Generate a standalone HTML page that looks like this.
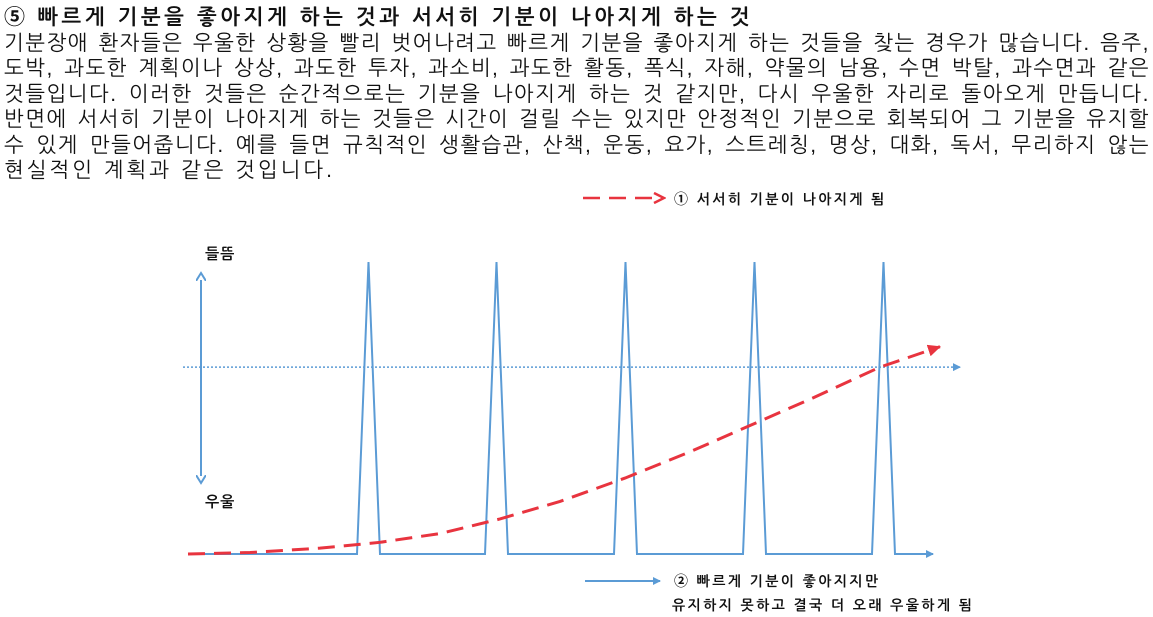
<!DOCTYPE html>
<html><head><meta charset="utf-8">
<style>
html,body{margin:0;padding:0;background:#fff;}
body{width:1153px;height:617px;position:relative;overflow:hidden;font-family:"Liberation Sans","NanumGothic","Noto Sans CJK KR",sans-serif;color:#111;}
#text{position:absolute;left:4px;top:5px;width:1146px;}
.ln{font-size:21px;line-height:25.5px;height:25.5px;text-align:justify;text-align-last:justify;white-space:nowrap;letter-spacing:1.5px;}
.title{font-weight:bold;text-align:left;text-align-last:left;letter-spacing:3.6px;}
.last{text-align-last:left;letter-spacing:3px;}
svg{position:absolute;left:0;top:0;}
.lbl{font-family:"Liberation Sans","NanumGothic","Noto Sans CJK KR",sans-serif;font-weight:bold;fill:#111;}
</style></head><body>
<div id="text">
<div class="ln title">⑤ 빠르게 기분을 좋아지게 하는 것과 서서히 기분이 나아지게 하는 것</div>
<div class="ln">기분장애 환자들은 우울한 상황을 빨리 벗어나려고 빠르게 기분을 좋아지게 하는 것들을 찾는 경우가 많습니다. 음주,</div>
<div class="ln">도박, 과도한 계획이나 상상, 과도한 투자, 과소비, 과도한 활동, 폭식, 자해, 약물의 남용, 수면 박탈, 과수면과 같은</div>
<div class="ln">것들입니다. 이러한 것들은 순간적으로는 기분을 나아지게 하는 것 같지만, 다시 우울한 자리로 돌아오게 만듭니다.</div>
<div class="ln">반면에 서서히 기분이 나아지게 하는 것들은 시간이 걸릴 수는 있지만 안정적인 기분으로 회복되어 그 기분을 유지할</div>
<div class="ln">수 있게 만들어줍니다. 예를 들면 규칙적인 생활습관, 산책, 운동, 요가, 스트레칭, 명상, 대화, 독서, 무리하지 않는</div>
<div class="ln last">현실적인 계획과 같은 것입니다.</div>
</div>
<svg id="chart" width="1153" height="617">
<defs>
<marker id="ab" markerWidth="8" markerHeight="8" refX="7" refY="4" orient="auto" markerUnits="userSpaceOnUse"><path d="M0,0 L8,4 L0,8 Z" fill="#5b9bd5"/></marker>
<marker id="ab2" markerWidth="10" markerHeight="10" refX="1" refY="5" orient="auto-start-reverse" markerUnits="userSpaceOnUse"><path d="M0,0 L8,5 L0,10" fill="none" stroke="#5b9bd5" stroke-width="2"/></marker>
<marker id="ar" markerWidth="14" markerHeight="12" refX="12" refY="6" orient="auto" markerUnits="userSpaceOnUse"><path d="M0,0 L13,6 L0,12 Z" fill="#e8343f"/></marker>
<marker id="ar2" markerWidth="14" markerHeight="12" refX="12" refY="6" orient="auto" markerUnits="userSpaceOnUse"><path d="M2,1 L12,6 L2,11" fill="none" stroke="#e8343f" stroke-width="2.5"/></marker>
</defs>
</svg>
<script>
const spikeStarts=[169,297,426,555,684];
const spikeWidth=23;
const spikePeak=100;
const baseline=0;
const curveX=[0,62,132,192,252,312,372,437,502,562,622,692,752];
const curveY=[0,0.5,2,4,7,12,18,26,35,44,53,64,71];
const threshold=64;

const NS='http://www.w3.org/2000/svg';
const svg=document.getElementById('chart');
const xs=v=>188+v;
const ys=v=>554-v*2.92;
function mk(tag,attrs){const e=document.createElementNS(NS,tag);for(const k in attrs)e.setAttribute(k,attrs[k]);svg.appendChild(e);return e;}

const th=mk('line',{x1:183,y1:ys(threshold),x2:960,y2:ys(threshold),stroke:'#5b9bd5','stroke-width':1.5,'stroke-dasharray':'2,2','marker-end':'url(#ab)'});



const va=mk('line',{x1:201,y1:280,x2:201,y2:476,stroke:'#5b9bd5','stroke-width':2,'marker-start':'url(#ab2)','marker-end':'url(#ab2)'});



let d='M'+xs(baseline)+','+ys(baseline);
spikeStarts.forEach(s=>{
  d+=' L'+xs(s)+','+ys(baseline)+' L'+xs(s+spikeWidth/2)+','+ys(spikePeak)+' L'+xs(s+spikeWidth)+','+ys(baseline);
});
d+=' L933,'+ys(baseline);
const sp=mk('path',{d:d,fill:'none',stroke:'#5b9bd5','stroke-width':2,'stroke-linejoin':'miter','marker-end':'url(#ab)'});



let cd='';
curveX.forEach((x,i)=>{cd+=(i?' L':'M')+xs(x)+','+ys(curveY[i]);});
const cv=mk('path',{d:cd,fill:'none',stroke:'#e8343f','stroke-width':3,'stroke-dasharray':'17,9','marker-end':'url(#ar)'});



const l1=mk('text',{x:205,y:259,'font-size':15,'letter-spacing':1,class:'lbl'});l1.textContent='들뜸';


const l2=mk('text',{x:205,y:507,'font-size':15,'letter-spacing':1,class:'lbl'});l2.textContent='우울';



const lg1=mk('line',{x1:583,y1:198,x2:664,y2:198,stroke:'#e8343f','stroke-width':2.5,'stroke-dasharray':'17,9','marker-end':'url(#ar2)'});


const t1=mk('text',{x:674,y:204,'font-size':14,'letter-spacing':2.4,class:'lbl'});t1.textContent='① 서서히 기분이 나아지게 됨';



const lg2=mk('line',{x1:585,y1:581,x2:660,y2:581,stroke:'#5b9bd5','stroke-width':2,'marker-end':'url(#ab)'});


const t2=mk('text',{x:674,y:586,'font-size':14,'letter-spacing':2.4,class:'lbl'});t2.textContent='② 빠르게 기분이 좋아지지만';


const t3=mk('text',{x:672,y:610,'font-size':14,'letter-spacing':2.4,class:'lbl'});t3.textContent='유지하지 못하고 결국 더 오래 우울하게 됨';


</script>
</body></html>
